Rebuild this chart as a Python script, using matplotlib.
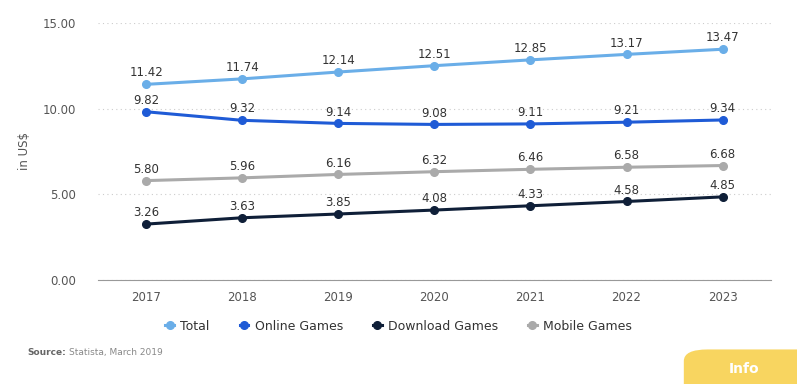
import matplotlib.pyplot as plt
from matplotlib.patches import FancyBboxPatch
from matplotlib.lines import Line2D

years = ['2017', '2018', '2019', '2020', '2021', '2022', '2023']
total = [11.42, 11.74, 12.14, 12.51, 12.85, 13.17, 13.47]
online = [9.82, 9.32, 9.14, 9.08, 9.11, 9.21, 9.34]
download = [3.26, 3.63, 3.85, 4.08, 4.33, 4.58, 4.85]
mobile = [5.80, 5.96, 6.16, 6.32, 6.46, 6.58, 6.68]

series = [
    ('Total', total, '#6aaee8'),
    ('Online Games', online, '#1f5bd6'),
    ('Download Games', download, '#0f1f38'),
    ('Mobile Games', mobile, '#aaaaaa'),
]

plt.rcParams['font.family'] = 'DejaVu Sans'
fig = plt.figure(figsize=(7.97, 3.84), dpi=100)
ax = fig.add_axes([0.123, 0.271, 0.844, 0.669])

x = list(range(len(years)))
for name, vals, col in series:
    ax.plot(x, vals, color=col, lw=2.2, marker='o', ms=5.5, solid_capstyle='round', zorder=3)
    for xi, v in zip(x, vals):
        ax.annotate('%.2f' % v, (xi, v), xytext=(0, 3.5), textcoords='offset points',
                    ha='center', va='bottom', fontsize=8.5, color='#333333')

ax.set_xlim(-0.5, 6.5)
ax.set_ylim(0, 15)
ax.set_yticks([0, 5, 10, 15])
ax.set_yticklabels(['0.00', '5.00', '10.00', '15.00'])
ax.set_xticks(x)
ax.set_xticklabels(years)
ax.tick_params(axis='both', length=0, labelsize=8.5, colors='#555555')
ax.tick_params(axis='y', pad=16)
ax.tick_params(axis='x', pad=8)
ax.grid(axis='y', linestyle=(0, (1, 3)), color='#cccccc', lw=0.8)
ax.set_axisbelow(True)
for s in ['top', 'right', 'left']:
    ax.spines[s].set_visible(False)
ax.spines['bottom'].set_color('#999999')
ax.set_ylabel('in US$', fontsize=8.5, color='#555555', labelpad=8)

handles = [Line2D([0], [0], color=c, marker='o', ms=5.5, lw=2.2) for _, _, c in series]
fig.legend(handles, [n for n, _, _ in series], loc='center', bbox_to_anchor=(0.5, 0.151),
           ncol=4, frameon=False, fontsize=9, handlelength=0.7, handletextpad=0.5,
           columnspacing=2.4, labelcolor='#333333')

src = fig.text(0.034, 0.075, 'Source:', fontsize=6.5, color='#666666', fontweight='bold')
fig.canvas.draw()
bb = src.get_window_extent().transformed(fig.transFigure.inverted())
fig.text(bb.x1 + 0.004, 0.075, 'Statista, March 2019', fontsize=6.5, color='#888888')

box = FancyBboxPatch((0.858, -0.05), 0.2, 0.14, boxstyle='round,pad=0,rounding_size=0.03',
                     transform=fig.transFigure, facecolor='#f8d560', edgecolor='none')
fig.patches.append(box)
fig.text(0.933, 0.04, 'Info', fontsize=10, color='white', ha='center', va='center', fontweight='bold')

fig.savefig('out.png', dpi=100)
